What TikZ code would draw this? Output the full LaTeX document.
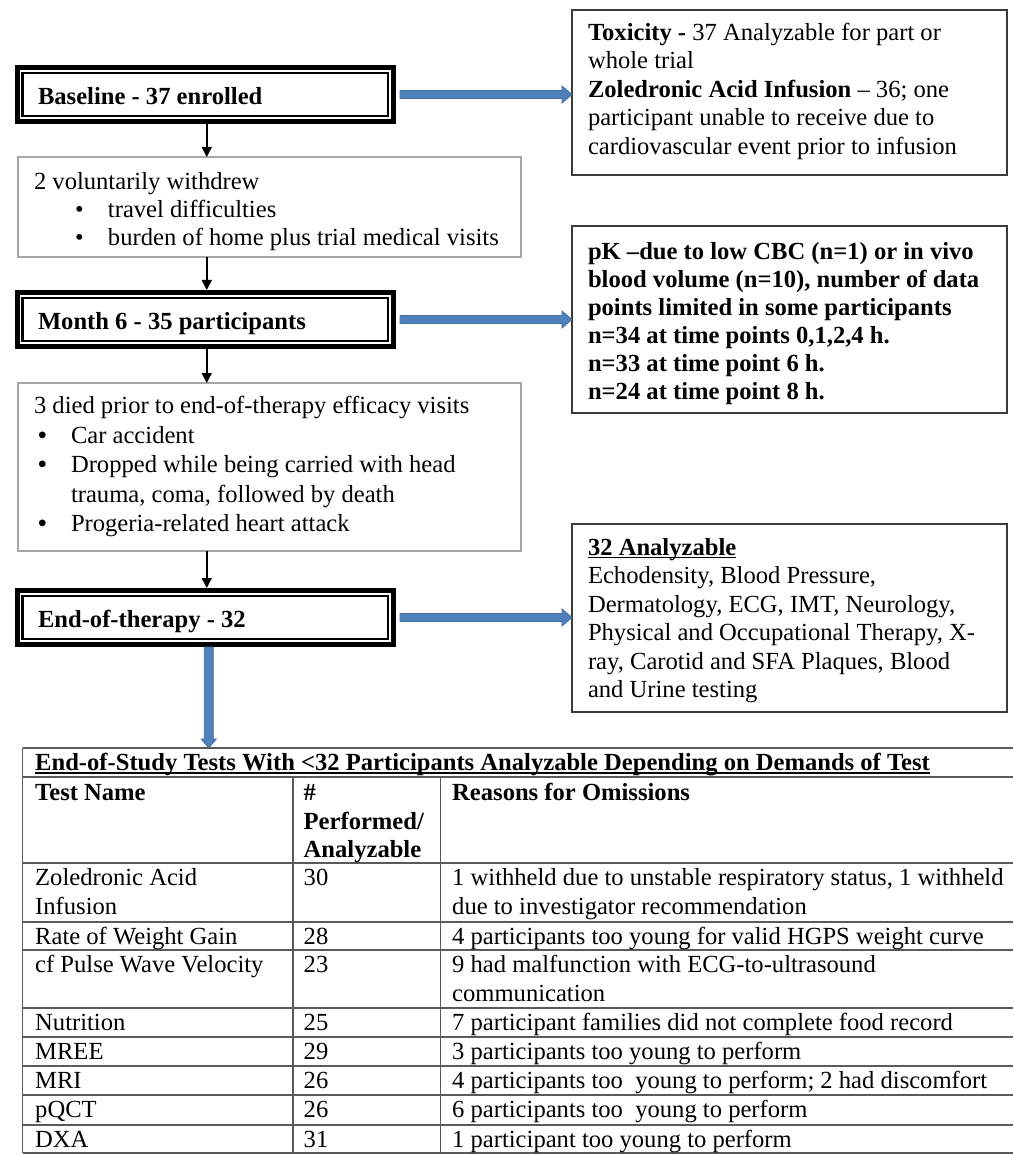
\documentclass[tikz,border=0pt]{standalone}
\usepackage{fontspec}
\setmainfont{Liberation Serif}
\usetikzlibrary{arrows.meta,calc}
\definecolor{blkfill}{HTML}{4F81BD}
\definecolor{blkline}{HTML}{41719C}
\definecolor{grayline}{HTML}{A6A6A6}
\definecolor{darkline}{HTML}{3A3A3A}
\definecolor{tabline}{HTML}{5A5A5A}
% box text: width, height, first-baseline offset, line pitch, lines
\newcommand{\bxt}[5]{\parbox[t][#2][t]{#1}{\fontsize{24.6pt}{#4}\selectfont\begin{tabular}[t]{@{}l@{}}\rule{0pt}{#3}#5\end{tabular}}}
\newcommand{\cellt}[1]{\begin{tabular}[t]{@{}l@{}}#1\end{tabular}}
\newsavebox{\ulsave}
\newcommand{\myul}[2]{\sbox{\ulsave}{#2}\rlap{\rule[#1]{\wd\ulsave}{1.4pt}}\usebox{\ulsave}}
\newcommand{\harrow}[2]{\path[blk] let \p1=(#1), \p2=(#2) in (\x1,\y1+4pt) -- (\x2-10pt,\y1+4pt) -- (\x2-10pt,\y1+8.5pt) -- (\x2,\y1) -- (\x2-10pt,\y1-8.5pt) -- (\x2-10pt,\y1-4pt) -- (\x1,\y1-4pt) -- cycle;}
\newcommand{\varrow}[2]{\path[blk] let \p1=(#1), \p2=(#2) in (\x1-4.5pt,\y1) -- (\x1-4.5pt,\y2+9pt) -- (\x1-7.5pt,\y2+9pt) -- (\x1,\y2) -- (\x1+7.5pt,\y2+9pt) -- (\x1+4.5pt,\y2+9pt) -- (\x1+4.5pt,\y1) -- cycle;}
\begin{document}
\begin{tikzpicture}[x=1pt,y=-1pt,
  every node/.style={font=\fontsize{24.6pt}{28.5pt}\selectfont},
  dbox/.style={draw=black, line width=5pt, anchor=north west, inner xsep=21pt, inner ysep=0pt, outer sep=0pt},
  dinner/.style={draw=black, line width=2.5pt},
  gbox/.style={draw=grayline, line width=1.5pt, anchor=north west, inner xsep=16pt, inner ysep=0pt, outer sep=0pt},
  rbox/.style={draw=darkline, line width=2pt, anchor=north west, inner xsep=16pt, inner ysep=0pt, outer sep=0pt},
  flow/.style={line width=1.5pt, -{Triangle[length=10pt,width=10pt]}},
  blk/.style={fill=blkfill, draw=blkline, line width=0.8pt},
  tline/.style={draw=tabline, line width=1.6pt},
  cell/.style={anchor=base west, inner sep=0pt, font=\fontsize{24.6pt}{29pt}\selectfont},
]
\useasboundingbox (0,0) rectangle (1013,1155);
\fill[white] (0,0) rectangle (1013,1155);

% left column: stage boxes
\node[dbox] (base) at (17,67.5) {\bxt{334.5pt}{54pt}{37pt}{28.5pt}{\textbf{Baseline - 37 enrolled}}};
\node[dbox] (m6) at (17,292.5) {\bxt{334.5pt}{54pt}{37pt}{28.5pt}{\textbf{Month 6 - 35 participants}}};
\node[dbox] (eot) at (17,590.5) {\bxt{334.5pt}{54pt}{37pt}{28.5pt}{\textbf{End-of-therapy - 32}}};
\foreach \n in {base,m6,eot}
  \draw[dinner] ([shift={(5.5,5.5)}]\n.north west) rectangle ([shift={(-5.5,-5.5)}]\n.south east);

\node[gbox] (wd) at (18,157) {\bxt{471pt}{100pt}{32.5pt}{28pt}{2 voluntarily withdrew\\
 \hspace*{41pt}\makebox[33pt][l]{•}travel difficulties\\
 \hspace*{41pt}\makebox[33pt][l]{•}burden of home plus trial medical visits}};
\node[gbox] (died) at (18,383) {\bxt{471pt}{168pt}{30.5pt}{29.5pt}{3 died prior to end-of-therapy efficacy visits\\
 \hspace*{4pt}\makebox[33pt][l]{\textbf{•}}Car accident\\
 \hspace*{4pt}\makebox[33pt][l]{\textbf{•}}Dropped while being carried with head\\
 \hspace*{37pt}trauma, coma, followed by death\\
 \hspace*{4pt}\makebox[33pt][l]{\textbf{•}}Progeria-related heart attack}};

% right column
\node[rbox] (tox) at (572,10) {\bxt{403pt}{165pt}{30.5pt}{28.5pt}{\textbf{Toxicity -} 37 Analyzable for part or\\
 whole trial\\
 \textbf{Zoledronic Acid Infusion} – 36; one\\
 participant unable to receive due to\\
 cardiovascular event prior to infusion}};
\node[rbox] (pk) at (572,226) {\bxt{403pt}{187pt}{33.5pt}{28pt}{\textbf{pK –due to low CBC (n=1) or in vivo}\\
 \textbf{blood volume (n=10), number of data}\\
 \textbf{points limited in some participants}\\
 \textbf{n=34 at time points 0,1,2,4 h.}\\
 \textbf{n=33 at time point 6 h.}\\
 \textbf{n=24 at time point 8 h.}}};
\node[rbox] (ana) at (572,524) {\bxt{403pt}{188pt}{31.5pt}{28.4pt}{\myul{-2.5pt}{\textbf{32 Analyzable}}\\
 Echodensity, Blood Pressure,\\
 Dermatology, ECG, IMT, Neurology,\\
 Physical and Occupational Therapy, X-\\
 ray, Carotid and SFA Plaques, Blood\\
 and Urine testing}};

% black flow arrows
\coordinate (ax) at (206.75,0);
\draw[flow] ($(base.south-|ax)+(0,2.5)$) -- (wd.north-|ax);
\draw[flow] (wd.south-|ax) -- ($(m6.north-|ax)+(0,-2.5)$);
\draw[flow] ($(m6.south-|ax)+(0,2.5)$) -- (died.north-|ax);
\draw[flow] (died.south-|ax) -- ($(eot.north-|ax)+(0,-2.5)$);

% blue block arrows
\harrow{$(base.east)+(6.5,0)$}{base.east -| tox.west}
\harrow{$(m6.east)+(6.5,0)$}{m6.east -| pk.west}
\harrow{$(eot.east)+(6.5,0)$}{eot.east -| ana.west}

% table
\node[anchor=north west, minimum width=990.5pt, minimum height=405pt, inner sep=0pt, outer sep=0pt] (tbl) at (22.5,748) {};
\coordinate (vx) at ($(eot.south)+(3.5,2.5)$);
\varrow{vx}{vx |- tbl.north}

\foreach \yy in {748,777,863,922,950,1008,1037,1066,1095,1125,1153}
  \draw[tline] (22.5,\yy) -- (1013,\yy);
\draw[tline] (22.5,748) -- (22.5,1153);
\draw[tline] (293,777) -- (293,1153);
\draw[tline] (440.5,777) -- (440.5,1153);

\node[cell] (ttl) at (35,770.5) {\myul{-3pt}{\textbf{End-of-Study Tests With <32 Participants Analyzable Depending on Demands of Test}}};
\node[cell] (h1) at (35,800.5) {\textbf{Test Name}};
\node[cell] (h2) at (303.5,800.5) {\fontsize{24.6pt}{28.5pt}\selectfont\cellt{\textbf{\#}\\ \textbf{Performed/}\\ \textbf{Analyzable}}};
\node[cell] (h3) at (452,800.5) {\textbf{Reasons for Omissions}};

\node[cell] (a1) at (35,885) {\cellt{Zoledronic Acid\\ Infusion}};
\node[cell] (b1) at (303.5,885) {30};
\node[cell] (c1) at (452,885) {\cellt{1 withheld due to unstable respiratory status, 1 withheld\\ due to investigator recommendation}};

\node[cell] (a2) at (35,944) {Rate of Weight Gain};
\node[cell] (b2) at (303.5,944) {28};
\node[cell] (c2) at (452,944) {4 participants too young for valid HGPS weight curve};

\node[cell] (a3) at (35,972) {cf Pulse Wave Velocity};
\node[cell] (b3) at (303.5,972) {23};
\node[cell] (c3) at (452,972) {\cellt{9 had malfunction with ECG-to-ultrasound\\ communication}};

\node[cell] (a4) at (35,1030) {Nutrition};
\node[cell] (b4) at (303.5,1030) {25};
\node[cell] (c4) at (452,1030) {7 participant families did not complete food record};

\node[cell] (a5) at (35,1059) {MREE};
\node[cell] (b5) at (303.5,1059) {29};
\node[cell] (c5) at (452,1059) {3 participants too young to perform};

\node[cell] (a6) at (35,1088) {MRI};
\node[cell] (b6) at (303.5,1088) {26};
\node[cell] (c6) at (452,1088) {4 participants too\ \ young to perform; 2 had discomfort};

\node[cell] (a7) at (35,1117) {pQCT};
\node[cell] (b7) at (303.5,1117) {26};
\node[cell] (c7) at (452,1117) {6 participants too\ \ young to perform};

\node[cell] (a8) at (35,1147) {DXA};
\node[cell] (b8) at (303.5,1147) {31};
\node[cell] (c8) at (452,1147) {1 participant too young to perform};
\end{tikzpicture}
\end{document}
